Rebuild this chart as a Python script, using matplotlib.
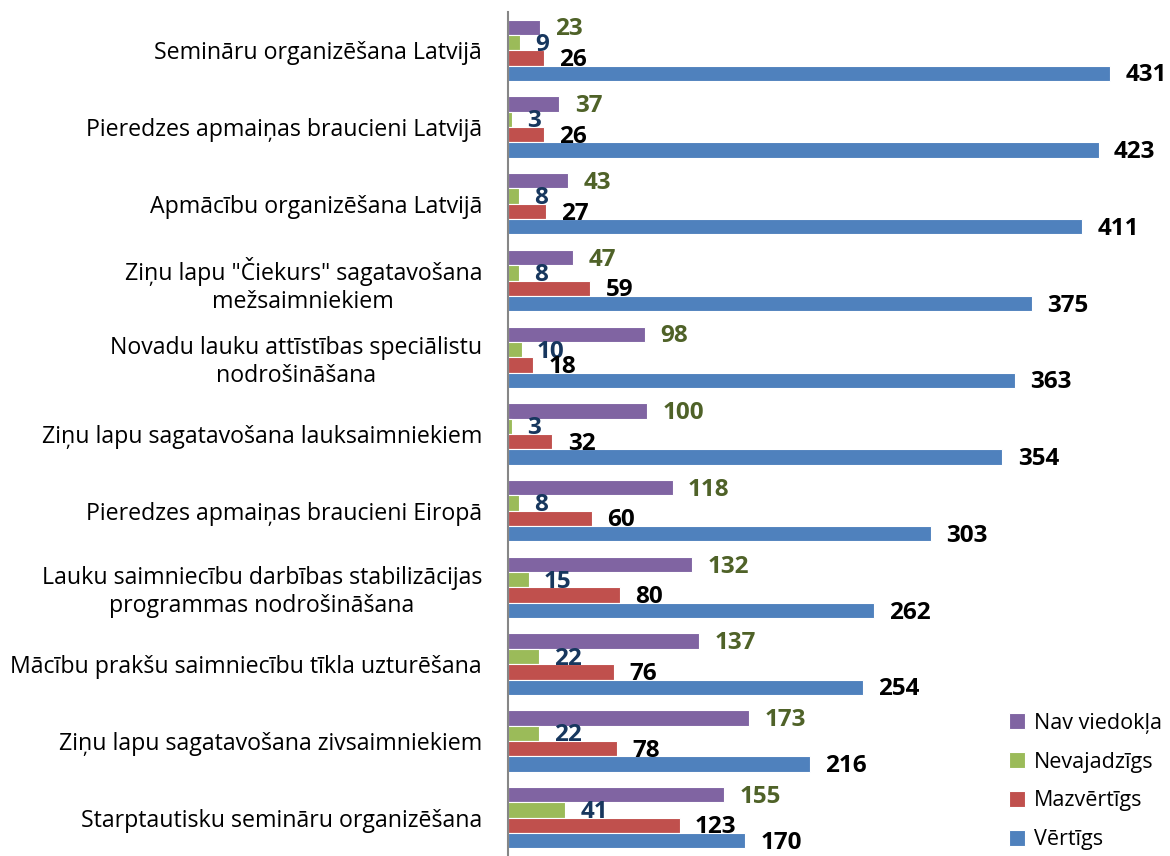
import matplotlib.pyplot as plt
import numpy as np

plt.rcParams['font.family'] = ['Open Sans', 'DejaVu Sans']

# Data
categories = ['Semināru organizēšana Latvijā',
              'Pieredzes apmaiņas braucieni Latvijā',
              'Apmācību organizēšana Latvijā',
              'Ziņu lapu "Čiekurs" sagatavošana\nmežsaimniekiem',
              'Novadu lauku attīstības speciālistu\nnodrošināšana',
              'Ziņu lapu sagatavošana lauksaimniekiem',
              'Pieredzes apmaiņas braucieni Eiropā',
              'Lauku saimniecību darbības stabilizācijas\nprogrammas nodrošināšana',
              'Mācību prakšu saimniecību tīkla uzturēšana',
              'Ziņu lapu sagatavošana zivsaimniekiem',
              'Starptautisku semināru organizēšana']
nav_viedokla = [23, 37, 43, 47, 98, 100, 118, 132, 137, 173, 155]
nevajadzigs = [9, 3, 8, 8, 10, 3, 8, 15, 22, 22, 41]
mazvertigs = [26, 26, 27, 59, 18, 32, 60, 80, 76, 78, 123]
vertigs = [431, 423, 411, 375, 363, 354, 303, 262, 254, 216, 170]

series = [('Nav viedokļa', nav_viedokla, '#8064A2', '#4F6228'),
          ('Nevajadzīgs', nevajadzigs, '#9BBB59', '#17375E'),
          ('Mazvērtīgs', mazvertigs, '#C0504D', 'black'),
          ('Vērtīgs', vertigs, '#4F81BD', 'black')]

fig = plt.figure(figsize=(11.7, 8.56), dpi=100)
ax = fig.add_axes([0.434, 0.0, 0.566, 0.986])

y = np.arange(len(categories))
step = 0.2
for k, (name, vals, color, lcolor) in enumerate(series):
    pos = y + (k - 1.5) * step
    ax.barh(pos, vals, height=step, color=color, edgecolor='white',
            linewidth=0.8, label=name)
    for p, v in zip(pos, vals):
        ax.annotate(str(v), (v, p), xytext=(11, -1.5), textcoords='offset points',
                    ha='left', va='center', fontsize=17.5, fontweight='bold',
                    color=lcolor)

ax.set_xlim(0, 474)
ax.set_ylim(len(categories) - 0.5, -0.5)
ax.set_yticks(y)
ax.set_yticklabels(categories, fontsize=16.7, multialignment='center')
ax.tick_params(left=False, bottom=False, labelbottom=False, pad=15)
ax.set_xticks([])
for s in ['top', 'right', 'bottom']:
    ax.spines[s].set_visible(False)
ax.spines['left'].set_color('#868686')
ax.spines['left'].set_linewidth(1.5)

handles, labels = ax.get_legend_handles_labels()
fig.legend(handles, labels, loc='lower left', bbox_to_anchor=(0.846, -0.016),
           frameon=False, fontsize=15.5, handlelength=0.75, handleheight=0.75,
           labelspacing=0.83, handletextpad=0.4)

plt.savefig('out.png', dpi=100)
